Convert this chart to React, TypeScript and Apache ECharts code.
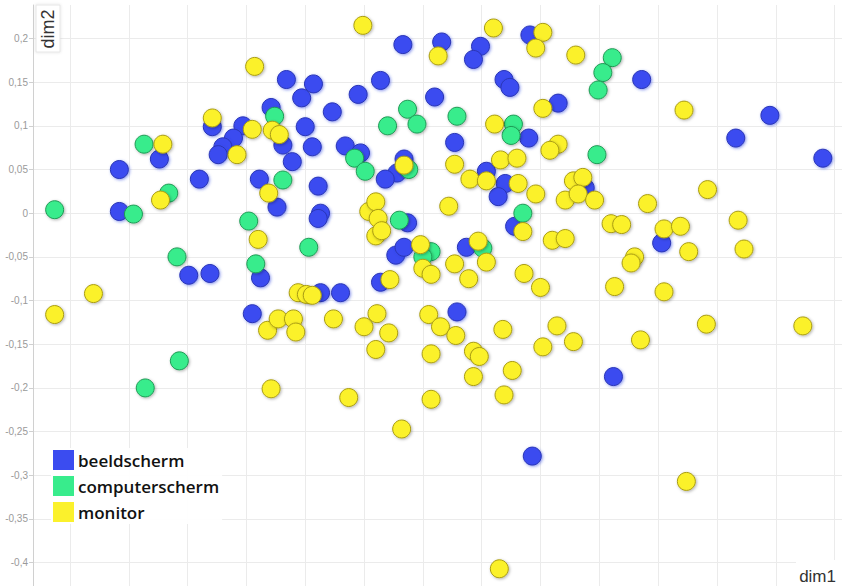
import React, { useEffect, useRef } from "react";
import * as echarts from "echarts";

const seriesNames = ["beeldscherm", "computerscherm", "monitor"];
const axisNames = ["dim1", "dim2"];
const xRange = [-0.2814, 0.4063];
const yRange = [-0.4267, 0.2383];

const beeldscherm: [number, number][] = [
  [-0.066, 0.153], [-0.053, 0.132], [-0.079, 0.121], [-0.129, 0.099], [-0.103, 0.100],
  [-0.050, 0.099], [-0.111, 0.086], [-0.120, 0.076], [-0.124, 0.067], [-0.069, 0.078],
  [-0.061, 0.059], [-0.174, 0.062], [-0.208, 0.050], [-0.140, 0.039], [-0.089, 0.039],
  [-0.074, 0.007], [-0.208, 0.002], [-0.088, -0.074], [-0.149, -0.071], [-0.131, -0.069],
  [0.033, 0.193], [0.066, 0.196], [0.099, 0.191], [0.093, 0.176], [0.141, 0.204],
  [-0.043, 0.148], [-0.005, 0.136], [0.014, 0.152], [-0.027, 0.116], [0.060, 0.133],
  [0.119, 0.153], [0.124, 0.144], [0.165, 0.126], [0.140, 0.086], [-0.044, 0.076],
  [-0.016, 0.077], [-0.003, 0.069], [0.077, 0.081], [0.034, 0.062], [0.028, 0.046],
  [0.018, 0.039], [0.104, 0.048], [0.120, 0.034], [0.114, 0.019], [-0.039, 0.031],
  [-0.037, 0.000], [-0.039, -0.006], [0.037, -0.011], [0.128, -0.015], [0.027, -0.048],
  [0.034, -0.039], [0.087, -0.039], [0.014, -0.079], [-0.037, -0.091], [-0.020, -0.091],
  [0.236, 0.153], [0.345, 0.112], [0.316, 0.086], [0.390, 0.063], [0.188, 0.029],
  [0.253, -0.034], [-0.095, -0.115], [0.079, -0.113], [0.143, -0.278], [0.212, -0.187],
];

const computerscherm: [number, number][] = [
  [-0.076, 0.111], [-0.187, 0.079], [-0.166, 0.023], [-0.069, 0.038], [-0.263, 0.004],
  [-0.196, -0.001], [-0.098, -0.009], [-0.047, -0.039], [-0.159, -0.050], [-0.092, -0.058],
  [0.037, 0.119], [0.045, 0.102], [0.020, 0.100], [0.079, 0.111], [0.127, 0.102],
  [0.125, 0.089], [-0.008, 0.063], [0.001, 0.048], [0.038, 0.050], [0.030, -0.008],
  [0.135, 0.000], [0.057, -0.044], [0.050, -0.050], [0.101, -0.040], [0.211, 0.178],
  [0.203, 0.161], [0.199, 0.141], [0.198, 0.067], [-0.157, -0.169], [-0.186, -0.200],
];

const monitor: [number, number][] = [
  [-0.093, 0.168], [-0.129, 0.109], [-0.095, 0.096], [-0.078, 0.095], [-0.072, 0.090],
  [-0.171, 0.079], [-0.108, 0.067], [-0.081, 0.023], [-0.173, 0.015], [-0.090, -0.030],
  [-0.230, -0.092], [-0.056, -0.091], [-0.001, 0.215], [0.063, 0.180], [0.110, 0.212],
  [0.152, 0.207], [0.146, 0.189], [0.180, 0.181], [0.152, 0.120], [0.111, 0.102],
  [0.165, 0.079], [0.158, 0.072], [0.034, 0.055], [0.077, 0.056], [0.116, 0.061],
  [0.130, 0.063], [0.090, 0.039], [0.104, 0.037], [0.131, 0.034], [0.146, 0.022],
  [0.171, 0.015], [0.178, 0.037], [0.004, 0.002], [0.010, 0.013], [0.012, -0.006],
  [0.010, -0.026], [0.015, -0.020], [0.072, 0.008], [0.135, -0.021], [0.160, -0.031],
  [0.171, -0.029], [0.048, -0.036], [0.050, -0.063], [0.057, -0.070], [0.097, -0.032],
  [0.077, -0.058], [0.104, -0.056], [0.089, -0.075], [0.136, -0.069], [0.150, -0.085],
  [0.022, -0.076], [-0.049, -0.093], [-0.044, -0.094], [0.272, 0.118], [0.186, 0.041],
  [0.182, 0.022], [0.196, 0.015], [0.241, 0.011], [0.292, 0.027], [0.210, -0.012],
  [0.219, -0.013], [0.255, -0.018], [0.269, -0.015], [0.276, -0.044], [0.318, -0.008],
  [0.323, -0.041], [0.230, -0.050], [0.227, -0.057], [0.213, -0.084], [0.255, -0.090],
  [-0.263, -0.116], [-0.082, -0.134], [-0.073, -0.121], [-0.060, -0.121], [-0.058, -0.136],
  [-0.079, -0.201], [-0.026, -0.121], [0.000, -0.130], [0.011, -0.115], [0.021, -0.137],
  [0.010, -0.156], [0.055, -0.116], [0.065, -0.130], [0.078, -0.140], [0.057, -0.161],
  [0.093, -0.158], [0.098, -0.164], [0.093, -0.187], [0.118, -0.133], [0.126, -0.180],
  [0.119, -0.208], [-0.013, -0.211], [0.057, -0.213], [0.032, -0.247], [0.115, -0.407],
  [0.164, -0.129], [0.152, -0.153], [0.178, -0.147], [0.291, -0.127], [0.373, -0.129],
  [0.235, -0.145], [0.274, -0.307],
];

const fills = ["#3b4cf0", "#38ec8c", "#fbf12c"];
const borders = ["#2a35b5", "#1f9a55", "#a99c12"];
const glow = ["rgba(40,60,220,0.55)", "rgba(0,0,0,0.3)", "rgba(0,0,0,0.3)"];

export default function App() {
  const ref = useRef<HTMLDivElement>(null);
  useEffect(() => {
    if (!ref.current) return;
    const chart = echarts.init(ref.current, undefined, { renderer: "svg" });
    const datasets = [beeldscherm, computerscherm, monitor];
    const fmt = (v: number) => String(Math.round(v * 1000) / 1000).replace(".", ",");
    chart.setOption({
      animation: false,
      backgroundColor: "#ffffff",
      grid: { left: 33, top: 5, right: 0, bottom: 0, containLabel: false },
      xAxis: {
        type: "value",
        min: xRange[0],
        max: xRange[1],
        splitNumber: 14,
        axisLine: { show: false, onZero: false },
        axisTick: { show: false },
        axisLabel: { show: false },
        splitLine: { show: true, showMinLine: false, showMaxLine: false, lineStyle: { color: "#ebebeb", width: 1 } },
      },
      yAxis: {
        type: "value",
        min: yRange[0],
        max: yRange[1],
        splitNumber: 13,
        axisLine: { show: true, onZero: false, lineStyle: { color: "#d0d0d0", width: 1 } },
        axisTick: { show: true, length: 4, lineStyle: { color: "#d0d0d0" } },
        axisLabel: {
          show: true,
          margin: 5,
          color: "#9a9a9a",
          fontSize: 10,
          fontFamily: "Liberation Sans, Arial, sans-serif",
          showMinLabel: false,
          showMaxLabel: false,
          formatter: fmt,
        },
        splitLine: { show: true, showMinLine: false, showMaxLine: false, lineStyle: { color: "#ebebeb", width: 1 } },
      },
      legend: {
        orient: "vertical",
        left: 51,
        top: 448,
        padding: [2, 3, 2, 2],
        backgroundColor: "rgba(255,255,255,0.92)",
        icon: "rect",
        itemWidth: 21,
        itemHeight: 20,
        itemGap: 6,
        selectedMode: false,
        textStyle: {
          fontSize: 17,
          fontWeight: 600,
          color: "#111111",
          fontFamily: "Open Sans, Noto Sans, sans-serif",
          padding: [0, 0, 0, -1],
        },
        data: seriesNames.map((n, i) => ({
          name: n,
          itemStyle: { color: fills[i], borderWidth: 0, shadowBlur: 0, shadowColor: "transparent" },
        })),
      },
      graphic: [
        {
          type: "rect",
          shape: { x: 36, y: 5, width: 24, height: 47 },
          style: { fill: "#ffffff", stroke: "#e6e6e6", lineWidth: 1, shadowBlur: 3, shadowColor: "rgba(0,0,0,0.12)" },
          z: 100,
        },
        {
          type: "text",
          x: 48,
          y: 29,
          rotation: Math.PI / 2,
          style: {
            text: axisNames[1],
            fill: "#333333",
            fontSize: 18,
            fontFamily: "Liberation Sans, Arial, sans-serif",
            align: "center",
            verticalAlign: "middle",
          },
          z: 101,
        },
        {
          type: "rect",
          shape: { x: 796, y: 560, width: 46, height: 26 },
          style: { fill: "#ffffff" },
          z: 100,
        },
        {
          type: "text",
          x: 836,
          y: 576,
          style: {
            text: axisNames[0],
            fill: "#333333",
            fontSize: 17,
            fontFamily: "Liberation Sans, Arial, sans-serif",
            align: "right",
            verticalAlign: "middle",
          },
          z: 101,
        },
      ],
      series: datasets.map((d, i) => ({
        name: seriesNames[i],
        type: "scatter",
        data: d,
        symbol: "circle",
        symbolSize: 18,
        itemStyle: {
          color: fills[i],
          borderColor: borders[i],
          borderWidth: 1,
          opacity: 1,
          shadowBlur: 3,
          shadowOffsetX: 1,
          shadowOffsetY: 1,
          shadowColor: glow[i],
        },
        emphasis: { disabled: true },
      })),
    });
    return () => chart.dispose();
  }, []);
  return (
    <div
      ref={ref}
      style={{ position: "absolute", left: 0, top: 0, width: 842, height: 586 }}
    />
  );
}
